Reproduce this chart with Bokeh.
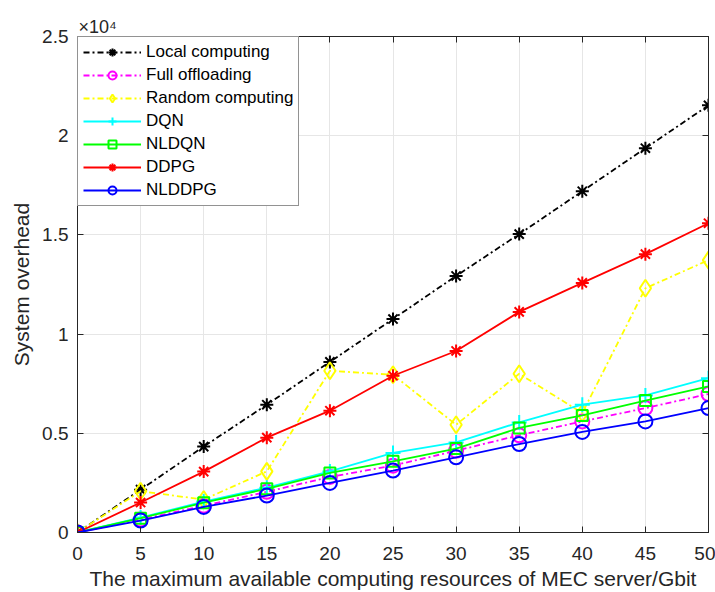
from bokeh.plotting import figure
from bokeh.models import Range1d, FixedTicker, CustomJSTickFormatter, LinearAxis, Legend
from bokeh.embed import file_html
from bokeh.resources import INLINE

x_vals = [0, 5, 10, 15, 20, 25, 30, 35, 40, 45, 50]
local_computing = [0, 2160, 4330, 6440, 8600, 10760, 12930, 15040, 17200, 19370, 21530]
full_offloading = [0, 650, 1350, 2050, 2800, 3370, 4120, 4900, 5600, 6270, 6980]
random_computing = [0, 2080, 1660, 3080, 8150, 7950, 5430, 8000, 6020, 12310, 13730]
dqn = [0, 750, 1560, 2260, 3080, 4010, 4540, 5550, 6440, 6910, 7780]
nldqn = [0, 720, 1500, 2200, 3000, 3590, 4230, 5270, 5900, 6650, 7360]
ddpg = [0, 1510, 3070, 4780, 6140, 7900, 9150, 11120, 12580, 14030, 15590]
nlddpg = [0, 600, 1290, 1860, 2500, 3120, 3790, 4460, 5070, 5600, 6270]

x_ticks = [0, 5, 10, 15, 20, 25, 30, 35, 40, 45, 50]
y_ticks = [0, 5000, 10000, 15000, 20000, 25000]

FONT = "Liberation Sans"
TXT = "#262626"

p = figure(width=715, height=592, output_backend="svg", toolbar_location=None,
           x_range=Range1d(0, 50), y_range=Range1d(0, 25000),
           min_border_left=77, min_border_right=7, min_border_top=36, min_border_bottom=59,
           title="×10⁴")
p.title.align = "left"
p.title.text_font = FONT
p.title.text_font_size = "18px"
p.title.text_font_style = "normal"
p.title.text_color = TXT
p.title.offset = 1
p.title.standoff = 0

p.outline_line_color = TXT
p.outline_line_width = 1

for ax in (p.xaxis[0], p.yaxis[0]):
    ax.major_tick_in = 6
    ax.major_tick_out = 0
    ax.minor_tick_line_color = None
    ax.axis_line_color = TXT
    ax.major_tick_line_color = TXT
    ax.major_label_text_font = FONT
    ax.major_label_text_font_size = "19px"
    ax.major_label_text_color = TXT
    ax.axis_label_text_font = FONT
    ax.axis_label_text_font_size = "21px"
    ax.axis_label_text_font_style = "normal"
    ax.axis_label_text_color = TXT

p.xaxis[0].ticker = FixedTicker(ticks=x_ticks)
p.yaxis[0].ticker = FixedTicker(ticks=y_ticks)
p.yaxis[0].formatter = CustomJSTickFormatter(code="return (tick/1e4).toString();")
p.xaxis[0].axis_label = "The maximum available computing resources of MEC server/Gbit"
p.yaxis[0].axis_label = "System overhead"
p.xaxis[0].major_label_standoff = 14
p.yaxis[0].major_label_standoff = 9
p.xaxis[0].axis_label_standoff = 4
p.yaxis[0].axis_label_standoff = 6

for loc, tk in (("right", y_ticks), ("above", x_ticks)):
    a = LinearAxis(ticker=FixedTicker(ticks=tk), major_tick_in=6, major_tick_out=0,
                   minor_tick_line_color=None, axis_line_color=TXT,
                   major_tick_line_color=TXT,
                   formatter=CustomJSTickFormatter(code="return '';"),
                   major_label_standoff=0)
    p.add_layout(a, loc)

p.grid.grid_line_color = "#e6e6e6"
p.xgrid.ticker = FixedTicker(ticks=x_ticks)
p.ygrid.ticker = FixedTicker(ticks=y_ticks)

series = [
    ("Local computing", local_computing, "black", "6 3 2 3", "asterisk", 13),
    ("Full offloading", full_offloading, "#ff00ff", "6 3 2 3", "circle", 14),
    ("Random computing", random_computing, "#ffff00", "6 3 2 3", "diamond", 17),
    ("DQN", dqn, "#00ffff", "solid", "cross", 15),
    ("NLDQN", nldqn, "#00ff00", "solid", "square", 11),
    ("DDPG", ddpg, "#ff0000", "solid", "asterisk", 13),
    ("NLDDPG", nlddpg, "#0000ff", "solid", "circle", 14),
]

items = []
for name, ys, col, dash, marker, size in series:
    r1 = p.line(x_vals, ys, line_color=col, line_width=1.8, line_dash=dash)
    r2 = p.scatter(x_vals, ys, marker=marker, size=size, line_color=col, fill_color=None, line_width=2)
    items.append((name, [r1, r2]))

legend = Legend(items=items, location="top_left")
legend.label_text_font = FONT
legend.label_text_font_size = "17px"
legend.label_text_color = "black"
legend.border_line_color = TXT
legend.border_line_width = 1
legend.background_fill_alpha = 1
legend.glyph_width = 58
legend.glyph_height = 20
legend.label_height = 20
legend.spacing = 3
legend.padding = 5
legend.margin = 0
legend.label_standoff = 5
p.add_layout(legend, "center")

open("out.html", "w").write(file_html(p, INLINE))
